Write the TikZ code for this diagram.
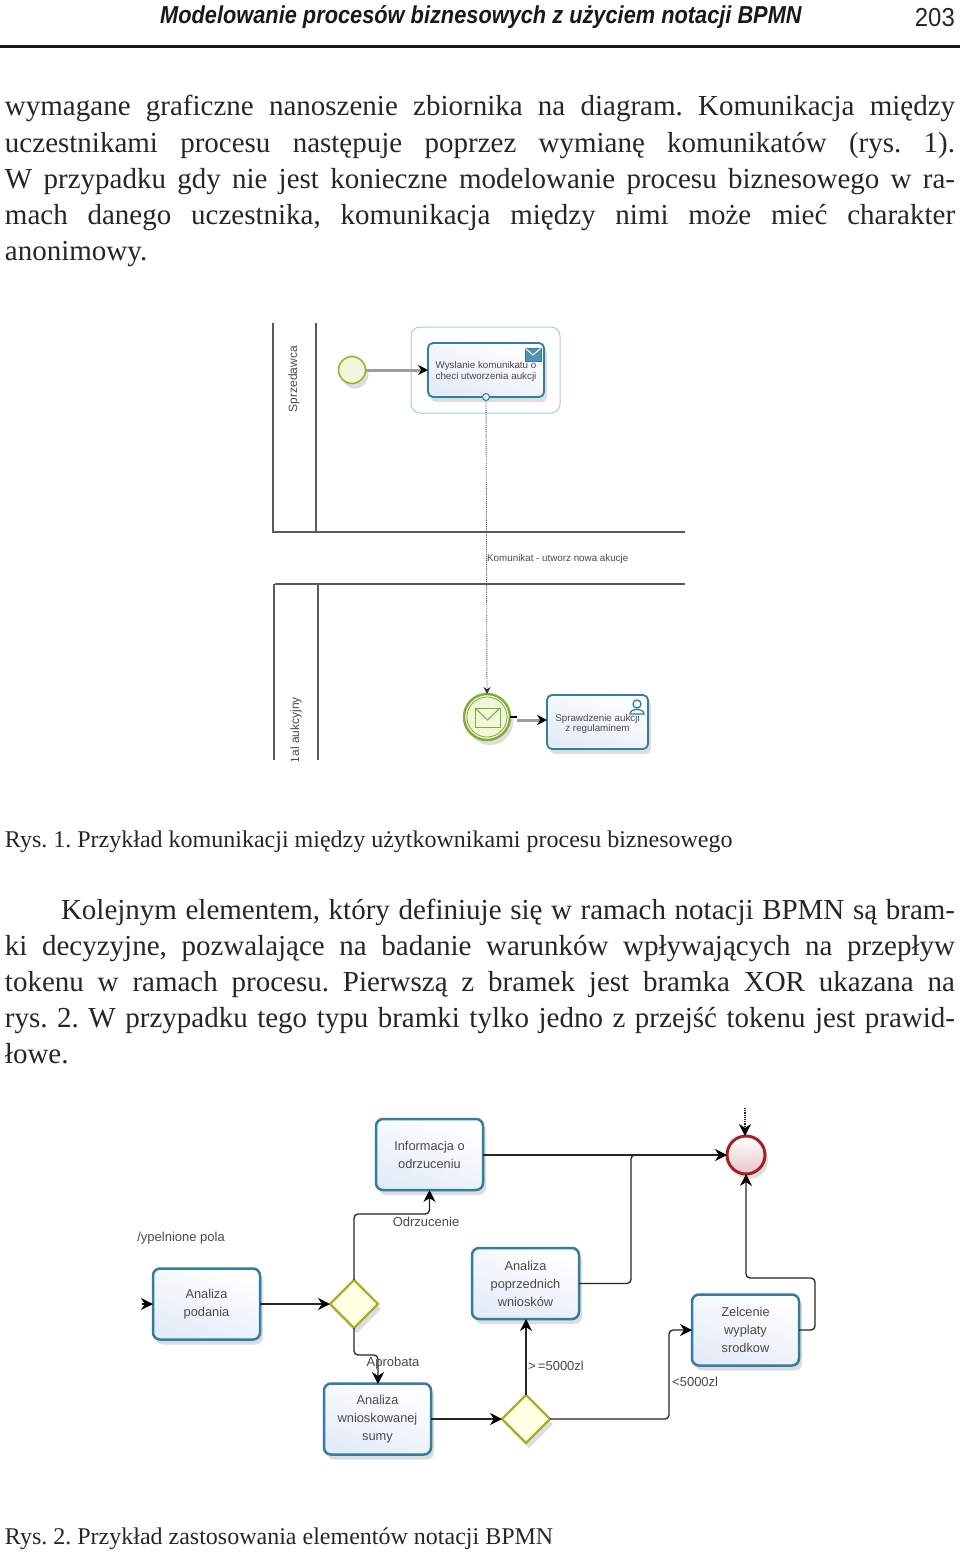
\documentclass[tikz,border=0pt]{standalone}
\usepackage{fontspec}
\usepackage{graphicx}
\setmainfont{Liberation Serif}
\newfontfamily\diag{Liberation Sans}
\frenchspacing
\usetikzlibrary{arrows.meta,shadows,shapes.geometric}
\definecolor{taskline}{HTML}{357CA3}
\definecolor{tasklight}{HTML}{E4ECF8}
\definecolor{inkgrey}{HTML}{4A4A4A}
\definecolor{gateline}{HTML}{A9AD2E}
\definecolor{gatefill}{HTML}{FFFFE2}
\definecolor{evline}{HTML}{7DAE38}
\definecolor{evfill}{HTML}{F0F7DA}
\definecolor{endline}{HTML}{A02228}
\definecolor{endfill}{HTML}{EBC6C8}
\tikzset{
  bodyline/.style={anchor=base west,inner sep=0pt,outer sep=0pt,font=\fontsize{29pt}{36pt}\selectfont,text=black!85},
  capline/.style={anchor=base west,inner sep=0pt,outer sep=0pt,font=\fontsize{24pt}{30pt}\selectfont,text=black!85},
  softshadow/.style={drop shadow={shadow xshift=3pt,shadow yshift=-5pt,opacity=.22,fill=black!60}},
  task/.style={draw=taskline,line width=2.5pt,rounded corners=7pt,top color=white,bottom color=tasklight,shading angle=-20,
    inner sep=0pt,outer sep=0pt,align=center,font=\diag\fontsize{12.8pt}{18pt}\selectfont,text=inkgrey,softshadow},
  smalltask/.style={task,line width=1.8pt,rounded corners=5pt},
  smalltext/.style={inner sep=0pt,outer sep=0pt,align=center,font=\diag\fontsize{9.8pt}{10.6pt}\selectfont,text=inkgrey},
  gate/.style={diamond,aspect=1,draw=gateline,line width=2.2pt,fill=gatefill,inner sep=0pt,outer sep=0pt,minimum width=48pt,minimum height=48pt,softshadow},
  label/.style={inner sep=0pt,font=\diag\fontsize{13pt}{14pt}\selectfont,text=inkgrey},
  smalllabel/.style={inner sep=0pt,font=\diag\fontsize{9.8pt}{12pt}\selectfont,text=inkgrey},
  lanetext/.style={inner sep=0pt,rotate=90,font=\diag\fontsize{12pt}{14pt}\selectfont,text=inkgrey},
  flow/.style={draw=black!85,line width=1.3pt,rounded corners=4pt,-{Stealth[black,length=12pt,width=12pt]}},
  plainflow/.style={draw=black!85,line width=1.3pt,rounded corners=4pt},
  greyflow/.style={draw=black!38,line width=3pt,-{Stealth[black,length=10pt,width=10pt]}},
  msgflow/.style={draw=black!70,line width=.9pt,densely dotted,-{Stealth[black!80,length=7pt,width=7pt]}},
  lane/.style={draw=black!65,line width=1.3pt},
}
\begin{document}
\begin{tikzpicture}[x=1pt,y=-1pt]
\useasboundingbox (0,0) rectangle (960,1552);
\fill[white] (0,0) rectangle (960,1552);

% header
\node[anchor=base west,inner sep=0pt] (hdr) at (160,24) {\scalebox{0.889}[1]{\diag\fontsize{24.5pt}{28pt}\selectfont\bfseries\itshape\color{black!90}Modelowanie procesów biznesowych z użyciem notacji BPMN}};
\node[anchor=base east,inner sep=0pt] (pg) at (955,27) {\scalebox{0.92}[1]{\diag\fontsize{26pt}{28pt}\selectfont\color{black!85}203}};
\coordinate (hl) at (0,47); \coordinate (hr) at (960,47);
\draw[line width=3pt,black!90] (hl) -- (hr);

% paragraph 1
\node[bodyline] (p1) at (5,116) {\hbox to 950pt{wymagane graficzne nanoszenie zbiornika na diagram. Komunikacja między}};
\node[bodyline] (p2) at (5,152) {\hbox to 950pt{uczestnikami procesu następuje poprzez wymianę komunikatów (rys. 1).}};
\node[bodyline] (p3) at (5,188) {\hbox to 950pt{W przypadku gdy nie jest konieczne modelowanie procesu biznesowego w ra-}};
\node[bodyline] (p4) at (5,224) {\hbox to 950pt{mach danego uczestnika, komunikacja między nimi może mieć charakter}};
\node[bodyline] (p5) at (5,260) {anonimowy.};

% figure 1: lanes
\coordinate (l1a) at (273,323); \coordinate (l1b) at (273,532);
\coordinate (l2a) at (316,323); \coordinate (l2b) at (316,532);
\coordinate (l3a) at (272,532); \coordinate (l3b) at (685,532);
\coordinate (l4a) at (275,584); \coordinate (l4b) at (685,584);
\coordinate (l5a) at (274,584); \coordinate (l5b) at (274,760);
\coordinate (l6a) at (318,584); \coordinate (l6b) at (318,760);
\draw[lane] (l1a) -- (l1b);
\draw[lane] (l2a) -- (l2b);
\draw[lane] (l3a) -- (l3b);
\draw[lane] (l4a) -- (l4b);
\draw[lane,line width=1.6pt] (l5a) -- (l5b);
\draw[lane,line width=1.6pt] (l6a) -- (l6b);
\node[lanetext] (sprz) at (294,379) {Sprzedawca};
\begin{scope}
  \clip (280,690) rectangle (312,760);
  \node[lanetext,anchor=east] (serw) at (296,697) {1al aukcyjny};
\end{scope}

% figure 1: elements
\node[circle,draw=gateline,line width=1.6pt,fill=evfill,minimum size=27pt,inner sep=0pt,outer sep=0pt,softshadow] (st) at (352,370) {};
\node[draw=taskline!40,line width=1pt,rounded corners=9pt,minimum width=149pt,minimum height=86pt,outer sep=0pt,inner sep=0pt] (grp) at (485.5,370) {};
\node[smalltask,minimum width=116pt,minimum height=54pt] (send) at (486,370) {};
\node[smalltext] (sendtxt) at (486,371.5) {Wyslanie komunikatu o\\checi utworzenia aukcji};
\draw[fill=taskline!85,draw=taskline] (525,348) rectangle (541,361);
\draw[white,line width=1pt] (525.5,348.5) -- (533,355) -- (540.5,348.5);
\draw[greyflow] (st) -- (send);
\node[circle,draw=taskline,line width=1pt,fill=tasklight,minimum size=7pt,inner sep=0pt,outer sep=0pt] (mark) at (486,397) {};
\node[circle,draw=evline,line width=2.4pt,fill=evfill,minimum size=46pt,inner sep=0pt,outer sep=0pt,softshadow] (ev) at (487,717) {};
\node[circle,draw=evline,line width=.8pt,minimum size=40pt,inner sep=0pt] (evin) at (487,717) {};
\draw[draw=evline,line width=1pt] (475,708) rectangle (500,727);
\draw[draw=evline,line width=1pt] (475,708) -- (487.5,720) -- (500,708);
\draw[msgflow] (mark) -- (ev.north);
\node[smalllabel,anchor=west] (kom) at (487,559) {Komunikat - utworz nowa akucje};
\node[smalltask,minimum width=101pt,minimum height=54pt] (chk) at (597.5,722) {};
\node[smalltext] (chktxt) at (597.5,724) {Sprawdzenie aukcji\\z regulaminem};
\draw[taskline,line width=1.3pt,fill=white] (630,714) .. controls (630,708) and (644,708) .. (644,714) -- cycle;
\draw[taskline,line width=1.3pt,fill=white] (637,704) circle (4pt);
\coordinate (tick) at (510,717); \coordinate (tickb) at (517,717);
\draw[black,line width=1.3pt] (tick) -- (tickb);
\coordinate (evout) at (517,720); \coordinate (chkin) at (chk.west |- evout);
\draw[greyflow] (evout) -- (chkin);

% caption 1
\node[capline] (c1) at (5,847) {Rys. 1. Przykład komunikacji między użytkownikami procesu biznesowego};

% paragraph 2
\node[bodyline] (q1) at (61,919) {\hbox to 894pt{Kolejnym elementem, który definiuje się w ramach notacji BPMN są bram-}};
\node[bodyline] (q2) at (5,955) {\hbox to 950pt{ki decyzyjne, pozwalające na badanie warunków wpływających na przepływ}};
\node[bodyline] (q3) at (5,991) {\hbox to 950pt{tokenu w ramach procesu. Pierwszą z bramek jest bramka XOR ukazana na}};
\node[bodyline] (q4) at (5,1027) {\hbox to 950pt{rys. 2. W przypadku tego typu bramki tylko jedno z przejść tokenu jest prawid-}};
\node[bodyline] (q5) at (5,1063) {łowe.};

% figure 2
\node[task,minimum width=107pt,minimum height=71pt] (info) at (429.5,1154.5) {Informacja o\\odrzuceniu};
\node[task,minimum width=107pt,minimum height=71pt] (pod) at (206.5,1304) {Analiza\\podania};
\node[task,minimum width=107pt,minimum height=71pt] (wn) at (377.5,1419) {Analiza\\wnioskowanej\\sumy};
\node[task,minimum width=107pt,minimum height=71pt] (pop) at (525.5,1283.5) {Analiza\\poprzednich\\wniosków};
\node[task,minimum width=107pt,minimum height=71pt] (zal) at (745.5,1330) {Zelcenie\\wyplaty\\srodkow};
\node[gate] (d1) at (354,1304) {};
\node[gate] (d2) at (526,1419) {};
\node[circle,draw=endline,line width=3pt,top color=white,bottom color=endfill,minimum size=38pt,inner sep=0pt,outer sep=0pt,softshadow] (end) at (746,1155) {};

\coordinate (podin) at (142,1304);
\coordinate (endin) at (745,1108);
\draw[flow] (podin) -- (pod.west);
\draw[flow] (pod.east) -- (d1.west);
\draw[flow] (d1.north) -- (354,1214) -- (429.5,1214) -- (info.south);
\draw[flow] (d1.south) -- (354,1355) -- (378,1355) -- (378,1384);
\draw[flow] (wn.east) -- (d2.west);
\draw[flow] (d2.north) -- (d2.north |- pop.south);
\draw[flow] (d2.east) -- (669,1419) -- (669,1330) -- (zal.west);
\draw[flow] (info.east |- end.west) -- (end.west);
\draw[plainflow] (pop.east) -- (631,1283.5) -- (631,1155) -- (640,1155);
\draw[flow] (zal.east) -- (815,1330) -- (815,1278) -- (746,1278) -- (end.south);
\draw[draw=black!85,line width=1.2pt,densely dotted,-{Stealth[black,length=12pt,width=12pt]}] (endin) -- (endin |- end.north);

\node[label,anchor=east] (la) at (225,1238) {/ypelnione pola};
\node[label] (lb) at (426,1222) {Odrzucenie};
\node[label] (lc) at (393,1363) {Aprobata};
\node[label,anchor=west] (ld) at (528,1366) {>\,=5000zl};
\node[label,anchor=west] (le) at (672,1382) {<5000zl};

% caption 2
\node[capline] (c2) at (5,1544) {Rys. 2. Przykład zastosowania elementów notacji BPMN};
\end{tikzpicture}
\end{document}
